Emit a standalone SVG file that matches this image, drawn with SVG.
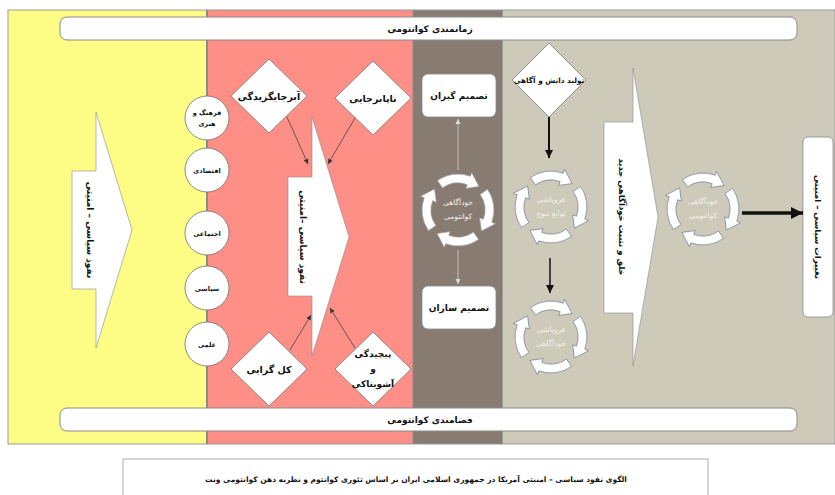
<svg xmlns="http://www.w3.org/2000/svg" xmlns:xlink="http://www.w3.org/1999/xlink" width="835" height="495" viewBox="0 0 835 495">
<style>
text{font-family:"DejaVu Sans","Noto Sans",sans-serif;font-weight:bold;text-anchor:middle;fill:#111}
.bar{fill:#fff;stroke:#8a8a8a;stroke-width:1}
.circ{fill:#fff;stroke:#6e6e6e;stroke-width:0.8}
.dia{fill:#fff;stroke:#777;stroke-width:0.8}
.box{fill:#fff;stroke:#8a8a8a;stroke-width:0.8}
.big{fill:#fff;stroke:#8a8a8a;stroke-width:0.6}
.seg{fill:#fff;stroke:#9a9a9a;stroke-width:0.7}
.segb{fill:#fff;stroke:#6f7690;stroke-width:0.7}
.ct{font-weight:normal;font-size:7.5px;fill:#f2f2ee}
.thin{stroke:#444;stroke-width:0.8;fill:none}
.light{stroke:#d6d2cc;stroke-width:0.8;fill:none}
</style>
<defs>
<marker id="ah" markerWidth="6" markerHeight="6" refX="5" refY="3" orient="auto" markerUnits="userSpaceOnUse"><path d="M0,0.5 L5,3 L0,5.5Z" fill="#333"/></marker>
<marker id="ahl" markerWidth="6" markerHeight="6" refX="5" refY="3" orient="auto" markerUnits="userSpaceOnUse"><path d="M0,0.5 L5,3 L0,5.5Z" fill="#ddd"/></marker>
<marker id="ahm" markerWidth="10" markerHeight="10" refX="8" refY="5" orient="auto" markerUnits="userSpaceOnUse"><path d="M0,1 L8,5 L0,9Z" fill="#111"/></marker>
<marker id="ahb" markerWidth="14" markerHeight="14" refX="12" refY="7" orient="auto" markerUnits="userSpaceOnUse"><path d="M0,1 L12,7 L0,13Z" fill="#111"/></marker>
<path id="s" d="M-20.65,-29.49 A36,36 0 0 1 12.31,-33.83 L13.68,-37.59 L21.08,-23.41 L7.87,-21.61 L9.23,-25.37 A27,27 0 0 0 -15.49,-22.12 Z"/>
<g id="cyc" class="seg"><use xlink:href="#s"/><use xlink:href="#s" transform="rotate(90)"/><use xlink:href="#s" transform="rotate(180)"/><use xlink:href="#s" transform="rotate(270)"/></g>
<g id="cycb" class="segb"><use xlink:href="#s"/><use xlink:href="#s" transform="rotate(90)"/><use xlink:href="#s" transform="rotate(180)"/><use xlink:href="#s" transform="rotate(270)"/></g>
</defs>

<g id="background">
<rect x="0" y="0" width="835" height="495" fill="#fff"/>
<rect x="8" y="10" width="199" height="434" fill="#FDFD86"/>
<rect x="207" y="10" width="206" height="434" fill="#FE8F86"/>
<rect x="413" y="10" width="89" height="434" fill="#887C72"/>
<rect x="502" y="10" width="333" height="434" fill="#CECABA"/>
<rect x="8" y="10" width="827" height="434" fill="none" stroke="#999" stroke-width="1"/>
<line x1="207" y1="10" x2="207" y2="444" stroke="#8a8a8a" stroke-width="2"/>
<line x1="413" y1="10" x2="413" y2="444" stroke="#8a8a8a" stroke-width="1"/>
<line x1="502" y1="10" x2="502" y2="444" stroke="#777" stroke-width="1"/>
</g>

<g id="top-bar"><rect class="bar" x="60" y="17" width="737" height="23" rx="7"/><text x="430" y="32" font-size="9">زمانمندی کوانتومی</text></g>
<g id="bottom-bar"><rect class="bar" x="60" y="408" width="737" height="23" rx="7"/><text x="430" y="423" font-size="9">فضامندی کوانتومی</text></g>

<g id="yellow-arrow"><polygon class="big" points="72,171 96,171 96,112 132,230 96,348 96,289 72,289"/><text transform="translate(90,230) rotate(90)" y="3" font-size="9">نفوذ سیاسی – امنیتی</text></g>

<g id="c-culture"><circle class="circ" cx="207" cy="118" r="22"/><text x="207" y="115" font-size="6.5">فرهنگ و</text><text x="207" y="126" font-size="6.5">هنری</text></g>
<g id="c-economic"><circle class="circ" cx="207" cy="170" r="22"/><text x="207" y="173" font-size="6.5">اقتصادی</text></g>
<g id="c-social"><circle class="circ" cx="207" cy="233" r="22"/><text x="207" y="236" font-size="6.5">اجتماعی</text></g>
<g id="c-political"><circle class="circ" cx="207" cy="288" r="22"/><text x="207" y="291" font-size="6.5">سیاسی</text></g>
<g id="c-scientific"><circle class="circ" cx="207" cy="344" r="22"/><text x="207" y="347" font-size="6.5">علمی</text></g>

<g id="red-arrow"><polygon class="big" points="288,177 312,177 312,117 349,237 312,356 312,296 288,296"/><text transform="translate(303,237) rotate(90)" y="3" font-size="9">نفوذ سیاسی –امنیتی</text></g>

<g id="d-superposition"><polygon class="dia" points="269,59 307,96 269,133 231,96"/><text x="269" y="100" font-size="9.5">آبرجایگزیدگی</text></g>
<g id="d-instability"><polygon class="dia" points="373,61 411,98 373,135 335,98"/><text x="373" y="102" font-size="9.5">ناپابرجایی</text></g>
<g id="d-holism"><polygon class="dia" points="269,332 307,369 269,406 231,369"/><text x="269" y="373" font-size="9.5">کل گرایی</text></g>
<g id="d-complexity"><polygon class="dia" points="373,332 411,369 373,406 335,369"/><text x="373" y="357" font-size="9">پیچیدگی</text><text x="373" y="372" font-size="9">و</text><text x="373" y="387" font-size="9">آشوبناکی</text></g>

<g id="b-decision-makers"><rect class="box" x="422" y="74" width="74" height="43" rx="6"/><text x="459" y="99" font-size="9">تصمیم گیران</text></g>
<g id="cycle-quantum-1"><use xlink:href="#cyc" transform="translate(458,210)"/><text class="ct" x="458" y="205">خودآگاهی</text><text class="ct" x="458" y="219">کوانتومی</text></g>
<g id="b-decision-shapers"><rect class="box" x="422" y="286" width="74" height="43" rx="6"/><text x="459" y="311" font-size="9">تصمیم سازان</text></g>

<g id="d-knowledge"><polygon class="dia" points="549,43 586,80 549,117 512,80"/><text x="549" y="83" font-size="7.3">تولید دانش و آگاهی</text></g>
<g id="cycle-wave"><use xlink:href="#cycb" transform="translate(551,207)"/><text class="ct" x="551" y="202">فروپاشی</text><text class="ct" x="551" y="216">توابع موج</text></g>
<g id="cycle-self"><use xlink:href="#cycb" transform="translate(551,337)"/><text class="ct" x="551" y="332">فروپاشی</text><text class="ct" x="551" y="346">خودآگاهی</text></g>

<g id="grey-arrow"><polygon class="big" points="604,122 633,122 633,68 658,217 633,366 633,313 604,313"/><text transform="translate(622,217) rotate(90)" y="3" font-size="8.5">خلق و تثبیت خودآگاهی جدید</text></g>
<g id="cycle-quantum-2"><use xlink:href="#cycb" transform="translate(703,209)"/><text class="ct" x="703" y="204">خودآگاهی</text><text class="ct" x="703" y="218">کوانتومی</text></g>
<g id="b-changes"><rect class="box" x="803" y="137" width="30" height="180" rx="5"/><text transform="translate(818,227) rotate(90)" y="3" font-size="8.5">تغییرات سیاسی – امنیتی</text></g>

<g id="connectors">
<line class="thin" x1="287" y1="117" x2="308" y2="164" marker-end="url(#ah)"/>
<line class="thin" x1="355" y1="118" x2="328" y2="164" marker-end="url(#ah)"/>
<line class="thin" x1="290" y1="350" x2="311" y2="315" marker-end="url(#ah)"/>
<line class="thin" x1="355" y1="348" x2="330" y2="308" marker-end="url(#ah)"/>
<line class="light" x1="458" y1="170" x2="458" y2="119" marker-end="url(#ahl)"/>
<line class="light" x1="458" y1="250" x2="458" y2="284" marker-end="url(#ahl)"/>
<line x1="549" y1="117" x2="549" y2="158" stroke="#111" stroke-width="2" marker-end="url(#ahm)"/>
<line x1="550" y1="258" x2="550" y2="293" stroke="#111" stroke-width="1.5" marker-end="url(#ahm)"/>
<line x1="742" y1="213" x2="803" y2="213" stroke="#111" stroke-width="3.5" marker-end="url(#ahb)"/>
</g>

<g id="caption"><rect x="123" y="459" width="585" height="40" fill="#fff" stroke="#999" stroke-width="0.8"/><text x="416" y="482" font-size="7.5">الگوی نفوذ سیاسی – امنیتی آمریکا در جمهوری اسلامی ایران بر اساس تئوری کوانتوم و نظریه ذهن کوانتومی ونت</text></g>
</svg>
